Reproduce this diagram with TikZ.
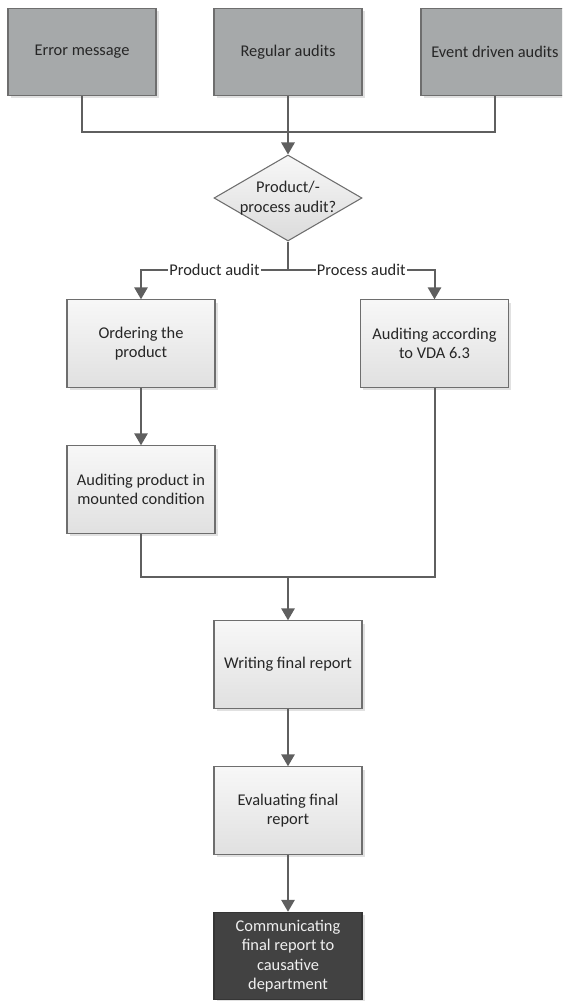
\documentclass[tikz,border=0pt]{standalone}
\usepackage{fontspec}
\setmainfont{Carlito}
\usetikzlibrary{shapes.geometric,arrows.meta,shadows}

\definecolor{linec}{RGB}{95,95,95}
\definecolor{borderc}{RGB}{110,110,110}
\definecolor{topfill}{RGB}{166,169,170}
\definecolor{darkfill}{RGB}{66,66,66}
\definecolor{textc}{RGB}{38,38,38}
\definecolor{shadowc}{RGB}{225,225,225}

\tikzset{
  boxbase/.style={rectangle, draw=borderc, line width=0.8pt,
    minimum width=111pt, minimum height=65.5pt, inner sep=2pt,
    align=center, text=textc,
    drop shadow={shadow xshift=2pt, shadow yshift=-2pt, fill=shadowc, opacity=1}},
  sourcebox/.style={boxbase, fill=topfill},
  stepbox/.style={boxbase, top color=white!97!black, bottom color=white!88!black},
  finalbox/.style={boxbase, fill=darkfill, draw=darkfill!80!black, text=white!94!black},
  decision/.style={diamond, draw=borderc, line width=0.8pt, inner sep=0pt,
    minimum width=111pt, minimum height=64.5pt,
    top color=white!97!black, bottom color=white!86!black},
  decisiontext/.style={align=center, text=textc, inner sep=0pt},
  flow/.style={draw=linec, line width=1.5pt},
  flowarrow/.style={flow, -{Triangle[width=10pt,length=9pt]}},
  branchlabel/.style={fill=white, inner sep=1pt, text=textc},
}

\begin{document}
\begin{tikzpicture}[x=0.75pt, y=-0.75pt, font=\fontsize{12.3}{14.5}\selectfont]
\useasboundingbox (0,0) rectangle (562,1001);
\clip (0,0) rectangle (562,1001);

% triggers
\node[sourcebox] (err) at (82,52) {Error message};
\node[sourcebox] (reg) at (288,52) {Regular audits};
\node[sourcebox] (evt) at (495,52) {Event driven audits};

% decision
\node[decision] (dia) at (288,198) {};
\node[decisiontext] (diat) at (dia.center) {Product/-\\process audit?};

% process steps
\node[stepbox] (ord) at (141,343.5) {Ordering the\\product};
\node[stepbox] (vda) at (434.5,343.5) {Auditing according\\to VDA 6.3};
\node[stepbox] (apm) at (141,489.5) {Auditing product in\\mounted condition};
\node[stepbox] (wfr) at (288,664.5) {Writing final report};
\node[stepbox] (efr) at (288,810.5) {Evaluating final\\report};
\node[finalbox] (cfr) at (288,956) {Communicating\\final report to\\causative\\department};

% junction points
\coordinate (top) at (288,132);
\coordinate (br) at (288,270);
\coordinate (mrg) at (288,577);

% collect triggers
\draw[flow] (err.south) |- (top) -| (evt.south);
\draw[flowarrow] (reg.south) -- (dia.north);

% branch by audit type
\draw[flow] (dia.south) -- (br);
\draw[flowarrow] (br) -| node[pos=0.25, branchlabel] {Product audit} (ord.north);
\draw[flowarrow] (br) -| node[pos=0.25, branchlabel] {Process audit} (vda.north);
\draw[flowarrow] (ord.south) -- (apm.north);

% merge and report
\draw[flow] (apm.south) |- (mrg) -| (vda.south);
\draw[flowarrow] (mrg) -- (wfr.north);
\draw[flowarrow] (wfr.south) -- (efr.north);
\draw[flowarrow] (efr.south) -- (cfr.north);
\end{tikzpicture}
\end{document}
